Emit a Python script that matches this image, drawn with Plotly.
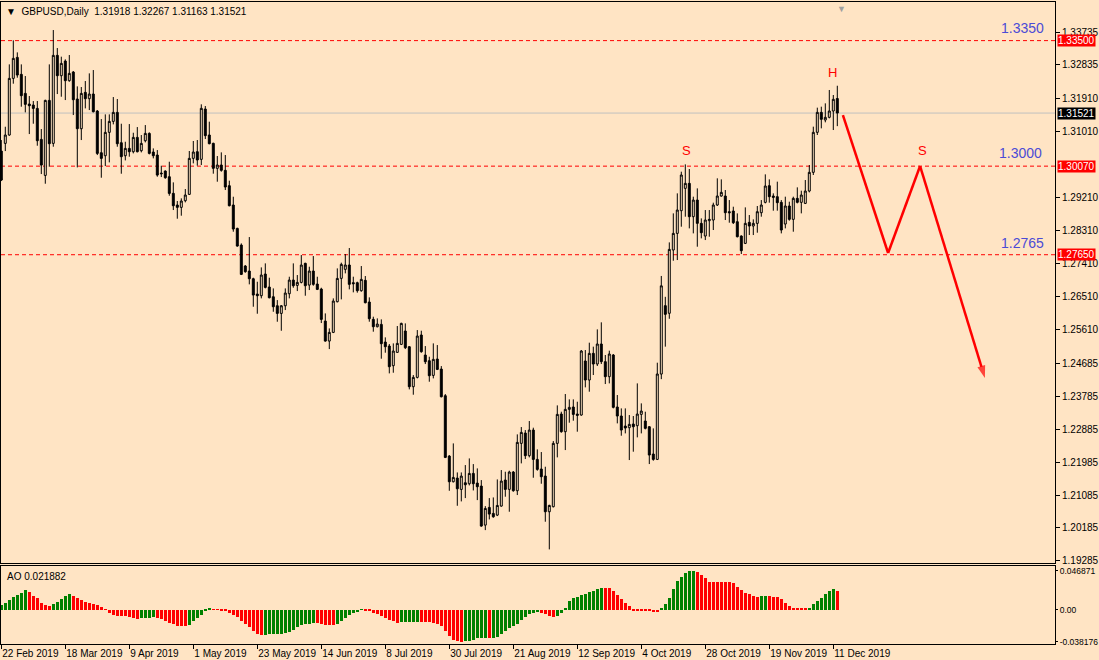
import plotly.graph_objects as go

BG = "#FFE4C4"
FONT = "Liberation Sans"

# ---- daily GBPUSD candles (bar index 0 .. 209) ----
opens = [1.30482,1.30692,1.30920,1.32468,1.33042,1.32578,1.32058,1.31767,1.31740,1.31648,
1.30801,1.29817,1.31867,1.30692,1.33097,1.32541,1.32942,1.32405,1.32641,1.31904,
1.31093,1.32086,1.31913,1.32040,1.31576,1.30437,1.30355,1.30993,1.31293,1.31539,
1.30710,1.30355,1.30555,1.30464,1.30856,1.30492,1.30765,1.30965,1.30455,1.30373,
1.29881,1.29936,1.29781,1.29327,1.29008,1.28944,1.29126,1.29299,1.30283,1.30465,
1.30256,1.31631,1.30921,1.30693,1.30010,1.30101,1.29955,1.29536,1.29008,1.28370,
1.27914,1.27341,1.27204,1.26994,1.26575,1.26530,1.27122,1.26767,1.26502,1.26256,
1.26047,1.26256,1.26584,1.26958,1.26812,1.26894,1.27414,1.26821,1.27204,1.26849,
1.26712,1.25837,1.25291,1.25528,1.26366,1.27004,1.27250,1.27369,1.26886,1.26886,
1.26667,1.26950,1.26358,1.25884,1.25683,1.25747,1.25264,1.25155,1.24618,1.24982,
1.25201,1.25565,1.25137,1.24044,1.24299,1.25456,1.24909,1.24754,1.24353,1.24800,
1.24526,1.23798,1.22149,1.21447,1.21547,1.21238,1.21420,1.21393,1.21675,1.21411,
1.21329,1.20263,1.20746,1.20582,1.20536,1.20783,1.21494,1.21239,1.21712,1.21202,
1.22496,1.22778,1.22159,1.22860,1.22058,1.21794,1.21603,1.20628,1.20765,1.22496,
1.23297,1.22815,1.23425,1.23489,1.23297,1.23270,1.24746,1.24227,1.24955,1.24664,
1.25210,1.24728,1.24318,1.24910,1.23489,1.23243,1.22969,1.22924,1.23024,1.22979,
1.23288,1.23106,1.22951,1.22204,1.22058,1.24390,1.26258,1.26050,1.27778,1.28233,
1.28853,1.29463,1.29600,1.28689,1.29144,1.28507,1.28161,1.28580,1.28598,1.29008,
1.29254,1.29254,1.28826,1.28844,1.28552,1.28161,1.27960,1.28534,1.28434,1.28507,
1.28798,1.29081,1.29536,1.29254,1.29236,1.29081,1.28489,1.28981,1.28616,1.29190,
1.29081,1.29053,1.29390,1.29901,1.30994,1.31540,1.31331,1.31404,1.31577,1.31918]

highs = [1.30783,1.31147,1.32851,1.33507,1.33179,1.32851,1.32532,1.31986,1.31849,1.31849,
1.31084,1.31885,1.32851,1.33789,1.33297,1.33061,1.32988,1.33106,1.32669,1.32250,
1.32232,1.32396,1.32605,1.32696,1.31603,1.31357,1.31485,1.31485,1.31958,1.31904,
1.31229,1.30737,1.31220,1.30983,1.31138,1.30920,1.31193,1.30993,1.30555,1.30510,
1.30082,1.29954,1.30191,1.29627,1.29117,1.29190,1.29445,1.30484,1.30757,1.30784,
1.31759,1.31713,1.31285,1.30711,1.30347,1.30447,1.30374,1.29673,1.29235,1.28388,
1.27960,1.27368,1.28133,1.27022,1.26912,1.27304,1.27414,1.27022,1.26730,1.26411,
1.26275,1.26730,1.27049,1.27414,1.27095,1.27641,1.27432,1.27322,1.27614,1.27049,
1.26748,1.26047,1.25637,1.26457,1.27277,1.27433,1.27669,1.27833,1.27050,1.26913,
1.27341,1.27068,1.26485,1.25957,1.25911,1.25884,1.25392,1.25210,1.25228,1.25702,
1.25793,1.25774,1.25155,1.24362,1.25592,1.25574,1.25155,1.24863,1.25228,1.25182,
1.24608,1.23843,1.22176,1.22495,1.21702,1.21702,1.21903,1.22085,1.21930,1.21812,
1.21493,1.20782,1.21001,1.21019,1.21511,1.21767,1.21721,1.21749,1.21740,1.22742,
1.22942,1.22860,1.23106,1.22924,1.22332,1.22259,1.21858,1.20819,1.22559,1.23534,
1.23361,1.23844,1.23698,1.23698,1.23634,1.25046,1.25046,1.25247,1.25138,1.25611,
1.25803,1.24910,1.25028,1.24937,1.23817,1.23452,1.23452,1.23270,1.23243,1.24135,
1.23589,1.23361,1.22969,1.22906,1.24700,1.27070,1.26500,1.27987,1.28780,1.29327,
1.29919,1.30119,1.29992,1.29236,1.29463,1.28643,1.28871,1.28871,1.29072,1.29737,
1.29709,1.29418,1.29144,1.28962,1.28780,1.28179,1.28944,1.28735,1.28616,1.28981,
1.29144,1.29846,1.29709,1.29327,1.29646,1.29144,1.29236,1.29099,1.29236,1.29491,
1.29400,1.29691,1.30101,1.31149,1.31668,1.31695,1.31786,1.32151,1.32014,1.32267]

lows = [1.29663,1.30482,1.30901,1.32323,1.32487,1.31694,1.31539,1.30947,1.31229,1.30628,
1.29854,1.29590,1.30054,1.30601,1.32040,1.31967,1.31876,1.32377,1.31466,1.30036,
1.30783,1.31648,1.31603,1.31539,1.30373,1.29754,1.30072,1.30173,1.31211,1.30601,
1.29863,1.30227,1.30328,1.30419,1.30446,1.30446,1.30719,1.30391,1.30282,1.29781,
1.29772,1.29726,1.29262,1.28871,1.28634,1.28716,1.29081,1.29281,1.30146,1.30083,
1.30101,1.30811,1.30666,1.29864,1.29645,1.29919,1.29418,1.28971,1.28279,1.27869,
1.27095,1.27158,1.26840,1.26229,1.26038,1.26457,1.26730,1.26457,1.26092,1.25819,
1.25573,1.26138,1.26457,1.26748,1.26657,1.26867,1.26530,1.26685,1.26803,1.26685,
1.25783,1.25273,1.25072,1.25509,1.26348,1.26430,1.27141,1.26704,1.26622,1.26613,
1.26640,1.26321,1.25820,1.25547,1.25665,1.24809,1.24973,1.24408,1.24426,1.24973,
1.25182,1.25073,1.23971,1.23825,1.24271,1.24973,1.24663,1.24180,1.24271,1.24499,
1.23752,1.22094,1.21201,1.21429,1.20791,1.20910,1.21001,1.21347,1.21210,1.20946,
1.20217,1.20126,1.20418,1.20463,1.20509,1.20765,1.21038,1.20628,1.21175,1.21084,
1.21949,1.22068,1.22113,1.21557,1.21749,1.21393,1.20355,1.19599,1.20747,1.22113,
1.22787,1.22313,1.23061,1.23115,1.22815,1.23252,1.24026,1.23908,1.24363,1.24609,
1.24664,1.24117,1.24135,1.23452,1.23042,1.22705,1.22769,1.22040,1.22268,1.22660,
1.22769,1.22878,1.21931,1.22022,1.22040,1.24250,1.25138,1.25900,1.27486,1.27505,
1.28416,1.28689,1.28370,1.28233,1.27869,1.28097,1.28051,1.28142,1.28325,1.28981,
1.29236,1.28598,1.28525,1.28489,1.28124,1.27669,1.27942,1.28188,1.28188,1.28252,
1.28689,1.29053,1.29072,1.28853,1.28853,1.28233,1.28370,1.28580,1.28279,1.29053,
1.28780,1.29035,1.29354,1.29828,1.30921,1.31103,1.31267,1.31376,1.31057,1.31163]

closes = [1.29690,1.30920,1.32468,1.33015,1.32559,1.31995,1.31758,1.31721,1.31648,1.30765,
1.30100,1.31867,1.30683,1.33097,1.32541,1.32878,1.32405,1.32605,1.31885,1.31093,
1.32058,1.31913,1.32040,1.31557,1.30419,1.30282,1.30993,1.31293,1.31539,1.30683,
1.30328,1.30555,1.30464,1.30856,1.30464,1.30692,1.30965,1.30419,1.30355,1.29826,
1.29863,1.29754,1.29326,1.28989,1.28944,1.29117,1.29281,1.30283,1.30456,1.30238,
1.31650,1.30903,1.30684,1.30010,1.30101,1.29955,1.29500,1.28989,1.28352,1.27887,
1.27113,1.27186,1.26994,1.26548,1.26530,1.27095,1.26758,1.26475,1.26229,1.26047,
1.26256,1.26603,1.26958,1.26803,1.26894,1.27368,1.26803,1.27204,1.26840,1.26703,
1.25883,1.25291,1.25528,1.26384,1.27003,1.27387,1.27369,1.26840,1.26859,1.26667,
1.26977,1.26339,1.25902,1.25683,1.25756,1.25219,1.25137,1.24590,1.25018,1.25228,
1.25774,1.25109,1.24044,1.24299,1.25428,1.25000,1.24727,1.24344,1.24791,1.24517,
1.23770,1.22112,1.21447,1.21566,1.21256,1.21602,1.21365,1.21675,1.21393,1.21311,
1.20236,1.20718,1.20564,1.20491,1.20800,1.21466,1.21239,1.21712,1.21202,1.22523,
1.22796,1.22159,1.22860,1.22058,1.21785,1.21585,1.20628,1.20801,1.22496,1.23288,
1.22815,1.23425,1.23480,1.23288,1.23261,1.25019,1.24227,1.24955,1.24664,1.25210,
1.24728,1.24318,1.24937,1.23480,1.23243,1.22860,1.22915,1.23015,1.22951,1.23297,
1.23379,1.22906,1.22177,1.22058,1.24391,1.26800,1.26021,1.27796,1.28233,1.28871,
1.29828,1.29600,1.28689,1.29144,1.28507,1.28252,1.28598,1.28616,1.29008,1.29254,
1.29354,1.28798,1.28798,1.28525,1.28142,1.27760,1.28507,1.28434,1.28507,1.28826,
1.29008,1.29527,1.29236,1.29217,1.29072,1.28325,1.28981,1.28616,1.29190,1.29081,
1.29281,1.29390,1.29901,1.30994,1.31540,1.31349,1.31404,1.31577,1.31896,1.31521]

# ---- Awesome Oscillator values ----
ao = [0.0059,0.0084,0.0114,0.0152,0.0181,0.0206,0.0236,0.0210,0.0168,0.0135,
0.0084,0.0051,0.0049,0.0063,0.0093,0.0126,0.0164,0.0185,0.0168,0.0143,
0.0118,0.0093,0.0080,0.0067,0.0059,0.0034,0.0008,-0.0042,-0.0063,-0.0072,
-0.0076,-0.0080,-0.0084,-0.0097,-0.0114,-0.0097,-0.0095,-0.0094,-0.0093,-0.0101,
-0.0114,-0.0135,-0.0156,-0.0177,-0.0194,-0.0198,-0.0200,-0.0189,-0.0135,-0.0097,
-0.0063,-0.0017,0.0009,0.0006,0.0002,-0.0005,-0.0021,-0.0042,-0.0063,-0.0090,
-0.0135,-0.0168,-0.0210,-0.0253,-0.0286,-0.0303,-0.0298,-0.0296,-0.0294,-0.0290,
-0.0286,-0.0278,-0.0265,-0.0244,-0.0210,-0.0189,-0.0177,-0.0168,-0.0160,-0.0162,
-0.0173,-0.0181,-0.0185,-0.0189,-0.0177,-0.0139,-0.0105,-0.0063,-0.0042,-0.0025,
0.0008,-0.0008,-0.0021,-0.0034,-0.0055,-0.0076,-0.0105,-0.0118,-0.0135,-0.0160,
-0.0152,-0.0150,-0.0148,-0.0147,-0.0146,-0.0148,-0.0150,-0.0153,-0.0156,-0.0168,
-0.0198,-0.0253,-0.0316,-0.0358,-0.0375,-0.038176,-0.0378,-0.0370,-0.0358,-0.0345,
-0.0341,-0.0337,-0.0341,-0.0337,-0.0324,-0.0295,-0.0261,-0.0223,-0.0198,-0.0168,
-0.0126,-0.0084,-0.0051,-0.0034,-0.0030,-0.0039,-0.0051,-0.0073,-0.0090,-0.0073,
-0.0039,0.0026,0.0103,0.0141,0.0158,0.0175,0.0188,0.0214,0.0227,0.0248,
0.0265,0.0257,0.0256,0.0227,0.0180,0.0133,0.0086,0.0039,-0.0005,-0.0006,
-0.0007,-0.0009,-0.0017,-0.0026,-0.0030,0.0013,0.0064,0.0146,0.0244,0.0347,
0.0398,0.0441,0.0462,0.046871,0.0449,0.0415,0.0377,0.0338,0.0336,0.0335,
0.0334,0.0333,0.0332,0.0317,0.0274,0.0235,0.0205,0.0184,0.0167,0.0158,
0.0159,0.0160,0.0159,0.0158,0.0157,0.0124,0.0086,0.0047,0.0026,0.0013,
0.0012,0.0011,0.0021,0.0064,0.0103,0.0146,0.0188,0.0227,0.0244,0.021882]

# ---- axis labels ----
date_tick_bars = [0,16,32,48,64,80,96,112,128,144,160,176,192,208]
date_tick_labels = ["22 Feb 2019","18 Mar 2019","9 Apr 2019","1 May 2019","23 May 2019",
                    "14 Jun 2019","8 Jul 2019","30 Jul 2019","21 Aug 2019","12 Sep 2019",
                    "4 Oct 2019","28 Oct 2019","19 Nov 2019","11 Dec 2019"]
price_ticks = [1.33735,1.32835,1.31910,1.31010,1.29210,1.28310,1.27410,1.26510,1.25610,
               1.24685,1.23785,1.22885,1.21985,1.21085,1.20185,1.19285]
ao_ticks = [0.046871, 0.0, -0.038176]
ao_tick_labels = ["0.046871", "0.00", "-0.038176"]

# ---- drawn objects ----
level_lines = [1.3350, 1.3007, 1.2765]
level_labels = ["1.33500", "1.30070", "1.27650"]
level_texts = [("1.3350", 255.4, 1.33844), ("1.3000", 254.7, 1.30429), ("1.2765", 255.4, 1.27975)]
bid_price = 1.31521
pattern_letters = [("S", 171.2, 1.30511), ("H", 207.7, 1.32642), ("S", 230.4, 1.30511)]
arrow_x = [210.4, 221.7, 229.7, 245.9]
arrow_y = [1.31467, 1.27697, 1.30074, 1.24282]

idx = list(range(len(opens)))
ao_colors = ["#008000"] + ["#008000" if ao[i] > ao[i-1] else "#FF0000" for i in range(1, len(ao))]

fig = go.Figure()
fig.add_trace(go.Candlestick(
    x=idx, open=opens, high=highs, low=lows, close=closes,
    increasing=dict(line=dict(color="black", width=1), fillcolor=BG),
    decreasing=dict(line=dict(color="black", width=1), fillcolor="black"),
    whiskerwidth=0, showlegend=False, hoverinfo="skip", xaxis="x", yaxis="y"))

fig.add_trace(go.Scatter(
    x=arrow_x, y=arrow_y, mode="lines+markers",
    line=dict(color="#FF0000", width=2.5),
    marker=dict(symbol="arrow", angleref="previous", size=[0, 0, 0, 13], color="#FF0000",
                line=dict(width=0)),
    showlegend=False, hoverinfo="skip", xaxis="x", yaxis="y", cliponaxis=False))

fig.add_trace(go.Bar(
    x=idx, y=ao, marker=dict(color=ao_colors, line=dict(width=0)), width=0.75,
    showlegend=False, hoverinfo="skip", xaxis="x2", yaxis="y2"))

r0, r1 = -0.075, 263.425
main_bottom = 0.1262
ao_top = 0.1215

axis_common = dict(showgrid=False, zeroline=False, showline=True, linecolor="black",
                   linewidth=1, mirror=True)

fig.update_layout(
    width=1099, height=660,
    margin=dict(l=1, r=44, t=2, b=16, autoexpand=False),
    paper_bgcolor=BG, plot_bgcolor=BG,
    font=dict(family=FONT, size=10, color="black"),
    bargap=0,
    xaxis=dict(domain=[0, 1], range=[r0, r1], anchor="y", showticklabels=False,
               ticks="", rangeslider=dict(visible=False), **axis_common),
    xaxis2=dict(domain=[0, 1], range=[r0, r1], anchor="y2", tickmode="array",
                tickvals=date_tick_bars, ticktext=date_tick_labels, ticks="outside",
                ticklen=4, tickcolor="black", ticklabelposition="outside right",
                tickangle=0, automargin=False,
                tickfont=dict(size=10, family=FONT), **axis_common),
    yaxis=dict(domain=[main_bottom, 1], range=[1.19228, 1.34555], anchor="x", side="right",
               tickmode="array", tickvals=price_ticks, automargin=False,
               ticktext=["%.5f" % v for v in price_ticks], ticks="outside", ticklen=4,
               tickcolor="black", tickfont=dict(size=10, family=FONT), **axis_common),
    yaxis2=dict(domain=[0, ao_top], range=[-0.04116, 0.05244], anchor="x2", side="right",
                tickmode="array", tickvals=ao_ticks, ticktext=ao_tick_labels, automargin=False,
                ticks="outside", ticklen=2, tickcolor="black",
                tickfont=dict(size=8.5, family=FONT), **axis_common),
)

shapes = []
for lv in level_lines:
    shapes.append(dict(type="line", xref="x domain", yref="y", x0=0, x1=1, y0=lv, y1=lv,
                       line=dict(color="#FF0000", width=1, dash="4px,3px"), layer="below"))
shapes.append(dict(type="line", xref="x domain", yref="y", x0=0, x1=1, y0=bid_price, y1=bid_price,
                   line=dict(color="#C0C0C0", width=1), layer="below"))
fig.update_layout(shapes=shapes)

ann = []
ann.append(dict(xref="paper", yref="paper", x=0.003, y=0.997, xanchor="left", yanchor="top",
                text="▼  GBPUSD,Daily  1.31918 1.32267 1.31163 1.31521", showarrow=False,
                font=dict(size=10, color="black", family=FONT)))
ann.append(dict(xref="paper", yref="paper", x=0.004, y=ao_top - 0.004, xanchor="left", yanchor="top",
                text="AO 0.021882", showarrow=False, font=dict(size=10, color="black", family=FONT)))
for lv, lab in zip(level_lines, level_labels):
    ann.append(dict(xref="paper", yref="y", x=1, y=lv, xanchor="left", yanchor="middle",
                    xshift=2, text=lab, showarrow=False, bgcolor="#FF0000", borderpad=0,
                    font=dict(size=10, color="white", family=FONT)))
ann.append(dict(xref="paper", yref="y", x=1, y=bid_price, xanchor="left", yanchor="middle",
                xshift=2, text="%.5f" % bid_price, showarrow=False, bgcolor="black", borderpad=0,
                font=dict(size=10, color="white", family=FONT)))
for t, bx, by in level_texts:
    ann.append(dict(xref="x", yref="y", x=bx, y=by, text=t, showarrow=False,
                    font=dict(size=14, color="#4B4BD6", family=FONT)))
for t, bx, by in pattern_letters:
    ann.append(dict(xref="x", yref="y", x=bx, y=by, text=t, showarrow=False,
                    font=dict(size=13, color="#FF0000", family=FONT)))
ann.append(dict(xref="x", yref="paper", x=210, y=1.0, yanchor="top", text="▼", showarrow=False,
                font=dict(size=9, color="#A0A0A0")))
fig.update_layout(annotations=ann)

fig.write_html("out.html", config={"displayModeBar": False},
               post_script="document.body.style.margin='0';document.body.style.overflow='hidden';")
